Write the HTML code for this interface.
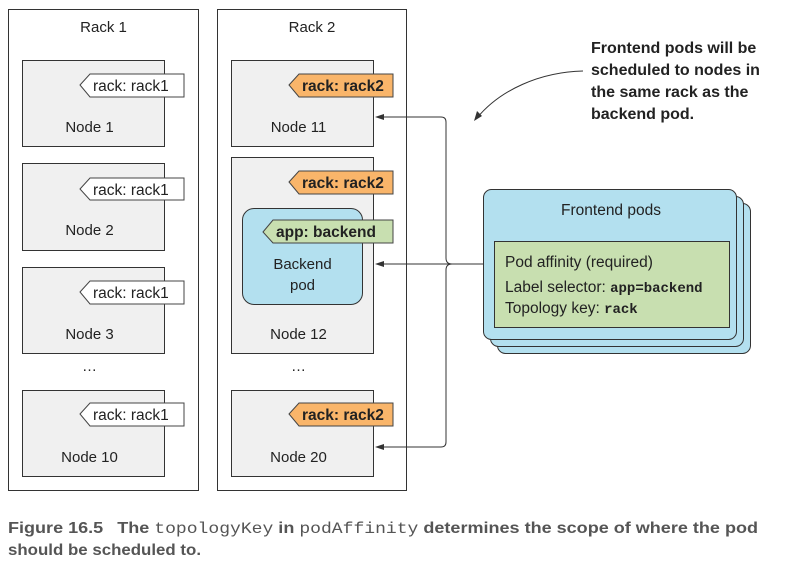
<!DOCTYPE html>
<html><head><style>
body{margin:0;width:788px;height:569px;background:#fff;font-family:"Liberation Sans",sans-serif;position:relative;overflow:hidden}
.a{position:absolute;box-sizing:border-box}
.rack{border:1px solid #333;background:#fff}
.node{border:1px solid #333;background:#f0f0f0}
.t{font-size:15px;color:#222;text-align:center}
</style></head><body>
<div class="a rack" style="left:8px;top:9px;width:191px;height:482px"></div>
<div class="a rack" style="left:217px;top:9px;width:190px;height:482px"></div>
<div class="a t" style="left:8px;top:19px;width:191px">Rack 1</div>
<div class="a t" style="left:217px;top:19px;width:190px">Rack 2</div>

<div class="a node" style="left:22px;top:60px;width:143px;height:87px"></div>
<div class="a node" style="left:22px;top:163px;width:143px;height:88px"></div>
<div class="a node" style="left:22px;top:267px;width:143px;height:87px"></div>
<div class="a node" style="left:22px;top:390px;width:143px;height:87px"></div>
<div class="a node" style="left:231px;top:60px;width:143px;height:87px"></div>
<div class="a node" style="left:231px;top:157px;width:143px;height:197px"></div>
<div class="a node" style="left:231px;top:390px;width:143px;height:87px"></div>

<div class="a t" style="left:22px;top:119px;width:135px">Node 1</div>
<div class="a t" style="left:22px;top:222px;width:135px">Node 2</div>
<div class="a t" style="left:22px;top:326px;width:135px">Node 3</div>
<div class="a t" style="left:22px;top:449px;width:135px">Node 10</div>
<div class="a t" style="left:231px;top:119px;width:135px">Node 11</div>
<div class="a t" style="left:231px;top:326px;width:135px">Node 12</div>
<div class="a t" style="left:231px;top:449px;width:135px">Node 20</div>
<div class="a t" style="left:22px;top:358px;width:135px">…</div>
<div class="a t" style="left:231px;top:358px;width:135px">…</div>

<div class="a" style="left:242px;top:208px;width:121px;height:97px;background:#b3e0ef;border:1px solid #333;border-radius:12px"></div>
<div class="a t" style="left:242px;top:254px;width:121px;line-height:21px">Backend<br>pod</div>

<svg class="a" style="left:0;top:0" width="788" height="569">
<g stroke="#444" stroke-width="1">
<polygon points="80,85 90,74 184,74 184,97 90,97" fill="#fff"/>
<polygon points="80,189 90,178 184,178 184,200 90,200" fill="#fff"/>
<polygon points="80,292 90,281 184,281 184,304 90,304" fill="#fff"/>
<polygon points="80,414 90,403 184,403 184,426 90,426" fill="#fff"/>
<polygon points="289,85 299,74 393,74 393,97 299,97" fill="#f9b56a"/>
<polygon points="289,182 299,171 393,171 393,194 299,194" fill="#f9b56a"/>
<polygon points="289,414 299,403 393,403 393,426 299,426" fill="#f9b56a"/>
<polygon points="263,232 273,220 393,220 393,243 273,243" fill="#c8dfb0"/>
</g>
<g fill="none" stroke="#333" stroke-width="1">
<path d="M378,117 H441 Q446,117 446,122 V258 Q446,264 452,264 Q446,264 446,270 V442 Q446,447 441,447 H378"/>
<path d="M378,264 H483"/>
<path d="M583,71 C540,72 500,90 477,118"/>
</g>
<g fill="#333">
<polygon points="375,117 384,114 384,120"/>
<polygon points="375,264 384,261 384,267"/>
<polygon points="375,447 384,444 384,450"/>
<polygon points="474,121 477,111 482,116"/>
</g>
<g stroke="#333" stroke-width="1">
<rect x="497.5" y="203.5" width="253" height="150" rx="8" fill="#b3e0ef"/>
<rect x="490.5" y="196.5" width="253" height="150" rx="8" fill="#b3e0ef"/>
<rect x="483.5" y="189.5" width="253" height="150" rx="8" fill="#b3e0ef"/>
<rect x="494.5" y="241.5" width="235" height="86" fill="#c8dfb0"/>
</g>
<g font-size="15.5" fill="#222">
<text x="93" y="91">rack: rack1</text>
<text x="93" y="195">rack: rack1</text>
<text x="93" y="298">rack: rack1</text>
<text x="93" y="420">rack: rack1</text>
<g font-weight="bold"><text x="302" y="91">rack: rack2</text>
<text x="302" y="188">rack: rack2</text>
<text x="302" y="420">rack: rack2</text>
<text x="276" y="237">app: backend</text></g>
<text x="611" y="215" text-anchor="middle">Frontend pods</text>
<text x="505" y="267">Pod affinity (required)</text>
<text x="505" y="292">Label selector: <tspan font-family="Liberation Mono" font-weight="bold" font-size="14">app=backend</tspan></text>
<text x="505" y="313">Topology key: <tspan font-family="Liberation Mono" font-weight="bold" font-size="14">rack</tspan></text>
</g>
<g font-size="16" font-weight="bold" fill="#222">
<text x="591" y="53">Frontend pods will be</text>
<text x="591" y="75">scheduled to nodes in</text>
<text x="591" y="97">the same rack as the</text>
<text x="591" y="119">backend pod.</text>
</g>
<g font-size="16" font-weight="bold" fill="#555">
<text x="8" y="533" textLength="750" lengthAdjust="spacingAndGlyphs">Figure 16.5 <tspan dx="8">The </tspan><tspan font-family="Liberation Mono" font-weight="normal">topologyKey</tspan> in <tspan font-family="Liberation Mono" font-weight="normal">podAffinity</tspan> determines the scope of where the pod</text>
<text x="8" y="555" textLength="193" lengthAdjust="spacingAndGlyphs">should be scheduled to.</text>
</g>
</svg>
</body></html>
